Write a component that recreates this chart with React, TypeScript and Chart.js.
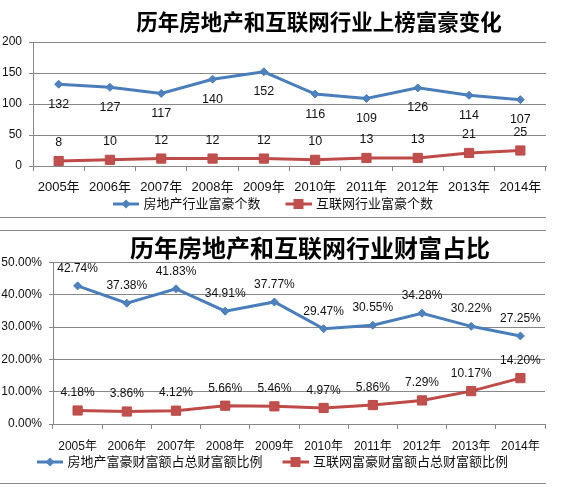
import { Chart, registerables } from "chart.js";
import React, { useEffect, useRef } from "react";

Chart.register(...registerables);

// ---- data ----
const years = ["2005年", "2006年", "2007年", "2008年", "2009年", "2010年", "2011年", "2012年", "2013年", "2014年"];

const estateCountName = "房地产行业富豪个数";
const internetCountName = "互联网行业富豪个数";
const estateCount = [132, 127, 117, 140, 152, 116, 109, 126, 114, 107];
const internetCount = [8, 10, 12, 12, 12, 10, 13, 13, 21, 25];
const countTicks = [0, 50, 100, 150, 200];

const estateShareName = "房地产富豪财富额占总财富额比例";
const internetShareName = "互联网富豪财富额占总财富额比例";
const estateShare = [42.74, 37.38, 41.83, 34.91, 37.77, 29.47, 30.55, 34.28, 30.22, 27.25];
const internetShare = [4.18, 3.86, 4.12, 5.66, 5.46, 4.97, 5.86, 7.29, 10.17, 14.2];
const shareTicks = [0, 10, 20, 30, 40, 50];

// ---- styles ----
const FONT = '"Liberation Sans", "Noto Sans CJK SC", sans-serif';
const TITLE_FONT = '"Noto Sans CJK SC", sans-serif';
const GRID = "#878787";
const TEXT = "#111111";
const BLUE_LINE = "#4A7EBB";
const BLUE = "#4F81BD";
const RED_LINE = "#BE4B48";
const RED = "#C0504D";

Chart.defaults.font.family = FONT;

// legend icon: short line with the marker on it (Excel style)
function makeIcon(line: string, fill: string, shape: "diamond" | "square", boxW: number) {
  const c = document.createElement("canvas");
  const w = boxW + 4;
  const h = 14;
  c.width = w;
  c.height = h;
  const ctx = c.getContext("2d")!;
  const cy = h / 2;
  const cx = w - 13;
  ctx.strokeStyle = line;
  ctx.lineWidth = 3;
  ctx.beginPath();
  ctx.moveTo(w - 26, cy);
  ctx.lineTo(w, cy);
  ctx.stroke();
  ctx.fillStyle = fill;
  ctx.beginPath();
  if (shape === "diamond") {
    ctx.moveTo(cx - 4.5, cy);
    ctx.lineTo(cx, cy - 4.5);
    ctx.lineTo(cx + 4.5, cy);
    ctx.lineTo(cx, cy + 4.5);
    ctx.closePath();
  } else {
    ctx.rect(cx - 5, cy - 5, 10, 10);
  }
  ctx.fill();
  return c;
}

// value labels next to each point
const valueLabels = {
  id: "valueLabels",
  afterDatasetsDraw(chart: any, _args: any, opts: any) {
    const ctx = chart.ctx;
    ctx.save();
    ctx.font = `${opts.size}px ${FONT}`;
    ctx.fillStyle = TEXT;
    ctx.textAlign = "center";
    ctx.textBaseline = "middle";
    chart.data.datasets.forEach((ds: any, i: number) => {
      chart.getDatasetMeta(i).data.forEach((pt: any, j: number) => {
        const txt = ds.data[j].toFixed(opts.decimals) + opts.suffix;
        ctx.fillText(txt, pt.x, pt.y + ds.labelOffset);
      });
    });
    ctx.restore();
  },
};

// move title / legend sideways (Excel doesn't center them on the canvas)
const nudge = {
  id: "nudge",
  afterLayout(chart: any, _args: any, opts: any) {
    const t = chart.titleBlock;
    if (t) {
      t.left += opts.title;
      t.right += opts.title;
    }
    const l = chart.legend;
    if (l) {
      l.left += opts.legend;
      l.right += opts.legend;
    }
  },
};

interface Spec {
  title: string;
  titleSize: number;
  titlePad: { top: number; bottom: number };
  titleShift: number;
  legendShift: number;
  legendBox: number;
  names: string[];
  series: number[][];
  offsets: number[];
  ticks: number[];
  yWidth: number;
  percent: boolean;
  xFont: number;
  xPad: number;
  labelSize: number;
  padding: { left: number; right: number; top: number; bottom: number };
}

function buildConfig(spec: Spec): any {
  const icons = [
    makeIcon(BLUE_LINE, BLUE, "diamond", spec.legendBox),
    makeIcon(RED_LINE, RED, "square", spec.legendBox),
  ];
  return {
    type: "line",
    data: {
      labels: years,
      datasets: [
        {
          label: spec.names[0],
          data: spec.series[0],
          borderColor: BLUE_LINE,
          backgroundColor: BLUE,
          borderWidth: 3,
          pointStyle: "rectRot",
          pointRadius: 4,
          pointBorderWidth: 1,
          pointBackgroundColor: BLUE,
          pointBorderColor: BLUE_LINE,
          labelOffset: spec.offsets[0],
        },
        {
          label: spec.names[1],
          data: spec.series[1],
          borderColor: RED_LINE,
          backgroundColor: RED,
          borderWidth: 3,
          pointStyle: "rect",
          pointRadius: 6.5,
          pointBorderWidth: 1,
          pointBackgroundColor: RED,
          pointBorderColor: RED_LINE,
          labelOffset: spec.offsets[1],
        },
      ],
    },
    options: {
      animation: false,
      responsive: true,
      maintainAspectRatio: false,
      events: [],
      layout: { padding: spec.padding },
      scales: {
        x: {
          offset: true,
          grid: { offset: true, drawOnChartArea: false, tickLength: 5, color: GRID },
          border: { color: GRID },
          ticks: {
            padding: spec.xPad,
            maxRotation: 0,
            autoSkip: false,
            color: TEXT,
            font: { size: spec.xFont },
          },
          afterFit: (s: any) => {
            s.height = 28.5;
          },
        },
        y: {
          min: spec.ticks[0],
          max: spec.ticks[spec.ticks.length - 1],
          afterBuildTicks: (s: any) => {
            s.ticks = spec.ticks.map((value) => ({ value }));
          },
          afterFit: (s: any) => {
            s.width = spec.yWidth;
          },
          grid: { color: GRID, tickLength: 4 },
          border: { color: GRID },
          ticks: {
            padding: 7,
            color: TEXT,
            font: { size: 12 },
            callback: (v: number) => (spec.percent ? v.toFixed(2) + "%" : String(v)),
          },
        },
      },
      plugins: {
        title: {
          display: true,
          text: spec.title,
          color: "#000000",
          font: { size: spec.titleSize, weight: "bold", family: TITLE_FONT },
          padding: spec.titlePad,
        },
        legend: {
          position: "bottom",
          labels: {
            usePointStyle: true,
            pointStyleWidth: spec.legendBox,
            boxHeight: 13,
            padding: 3,
            color: TEXT,
            font: { size: 13 },
            generateLabels: (chart: any) =>
              Chart.defaults.plugins.legend.labels
                .generateLabels(chart)
                .map((item: any, i: number) => ({ ...item, pointStyle: icons[i] })),
          },
        },
        tooltip: { enabled: false },
        valueLabels: {
          size: spec.labelSize,
          decimals: spec.percent ? 2 : 0,
          suffix: spec.percent ? "%" : "",
        },
        nudge: { title: spec.titleShift, legend: spec.legendShift },
      },
    },
    plugins: [valueLabels, nudge],
  };
}

const countSpec: Spec = {
  title: "历年房地产和互联网行业上榜富豪变化",
  titleSize: 21.5,
  titlePad: { top: 9.1, bottom: 7.1 },
  titleShift: 46,
  legendShift: -11,
  legendBox: 46,
  names: [estateCountName, internetCountName],
  series: [estateCount, internetCount],
  offsets: [20, -18],
  ticks: countTicks,
  yWidth: 33,
  percent: false,
  xFont: 13,
  xPad: 9,
  labelSize: 12.5,
  padding: { left: 0, right: 25, top: 0, bottom: 1.5 },
};

const shareSpec: Spec = {
  title: "历年房地产和互联网行业财富占比",
  titleSize: 24,
  titlePad: { top: 2.6, bottom: 0 },
  titleShift: 37.5,
  legendShift: -8.5,
  legendBox: 41,
  names: [estateShareName, internetShareName],
  series: [estateShare, internetShare],
  offsets: [-17.5, -17.5],
  ticks: shareTicks,
  yWidth: 53,
  percent: true,
  xFont: 12,
  xPad: 10.8,
  labelSize: 12,
  padding: { left: 0, right: 26, top: 0, bottom: 11.5 },
};

const LineBox: React.FC<{ top: number; height: number; spec: Spec }> = ({ top, height, spec }) => {
  const chartRef = useRef<HTMLCanvasElement | null>(null);

  useEffect(() => {
    if (!chartRef.current) return;
    const chart = new Chart(chartRef.current, buildConfig(spec));
    return () => {
      chart.destroy();
    };
  }, [spec]);

  return (
    <div style={{ position: "absolute", left: 0, top, width: 571, height }}>
      <canvas ref={chartRef}></canvas>
    </div>
  );
};

const Rule: React.FC<{ y: number }> = ({ y }) => (
  <div style={{ position: "absolute", left: 0, top: y, width: 546, height: 1, background: "#8a8a8a", zIndex: 2 }} />
);

export default function App() {
  return (
    <div style={{ position: "absolute", left: 0, top: 0, width: 571, height: 490, background: "#ffffff", overflow: "hidden" }}>
      <LineBox top={0} height={222} spec={countSpec} />
      <LineBox top={231} height={259} spec={shareSpec} />
      <Rule y={217} />
      <Rule y={230} />
      <Rule y={483} />
    </div>
  );
}
